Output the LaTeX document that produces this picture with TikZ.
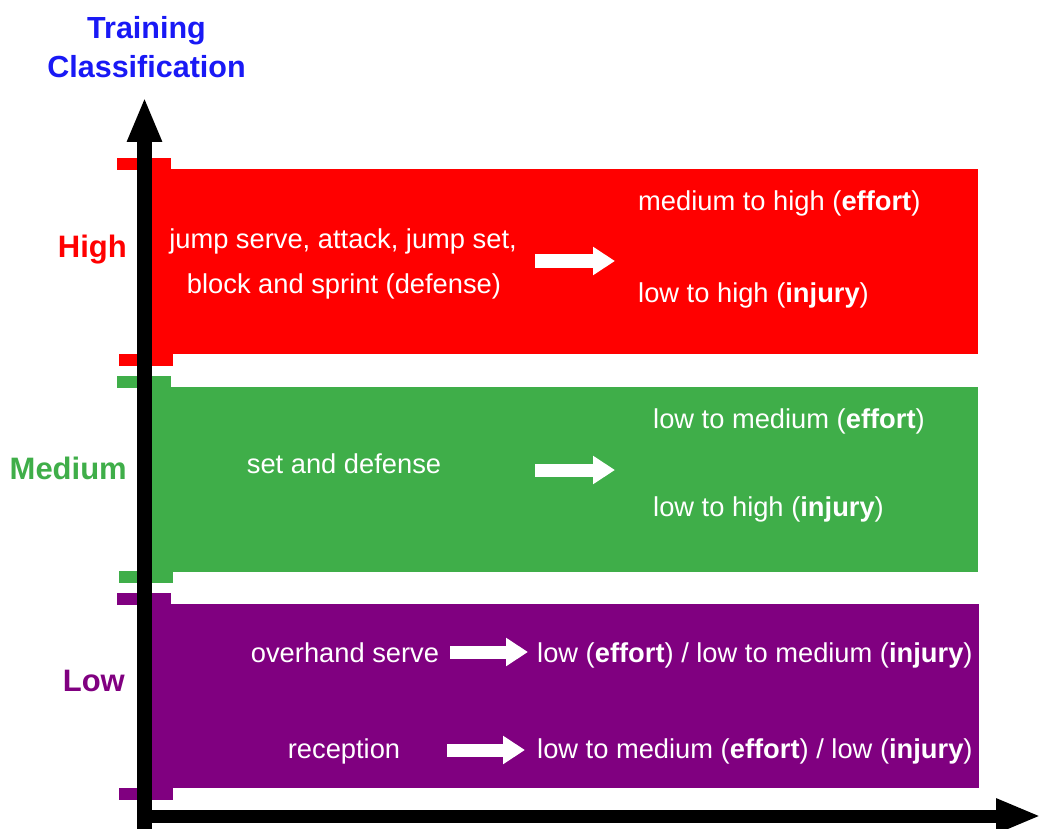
\documentclass[tikz,border=0pt]{standalone}
\usepackage{fontspec}
\setmainfont{Liberation Sans}
\usepackage{tikz}
\usetikzlibrary{arrows.meta}

\definecolor{highred}{RGB}{255,0,0}
\definecolor{medgreen}{RGB}{63,174,73}
\definecolor{lowpurple}{RGB}{128,0,128}
\definecolor{titleblue}{RGB}{25,25,245}

\begin{document}
\begin{tikzpicture}[x=1pt,y=-1pt,
    txt/.style={text=white, inner sep=0pt, font=\fontsize{27.3}{32}\selectfont},
    lvl/.style={inner sep=0pt, anchor=base east, font=\fontsize{31}{36}\selectfont\bfseries},
    whitearrow/.style={draw=white, line width=13pt, -{Triangle[length=22pt,width=27pt]}},
    axisline/.style={draw=black, line width=15pt, -{Triangle[length=45pt,width=32pt]}}]

\useasboundingbox (0,0) rectangle (1039,829);

% bands
\fill [highred]   (152,169) rectangle (978,354);
\fill [medgreen]  (152,387) rectangle (978,572);
\fill [lowpurple] (152,604) rectangle (979,788);

% ticks on the axis
\foreach \c/\t/\b in {highred/158/354, medgreen/376/571, lowpurple/593/788}
{
    \fill [\c] (117,\t) rectangle +(54,12);
    \fill [\c] (119,\b) rectangle +(54,12);
}

% axes
\coordinate (ybot) at (144.5,840);
\coordinate (ytop) at (144.5,97);
\coordinate (xleft) at (137,816);
\coordinate (xright) at (1041,816);

\draw [axisline] (ybot) -- (ytop);
\draw [axisline, line width=13pt] (xleft) -- (xright);

\node [align=center, anchor=north, inner sep=0pt, text=titleblue,
       font=\fontsize{30.5}{39}\selectfont\bfseries] (title) at (146.5,16) {Training\\Classification};

% levels
\node [lvl, text=highred]   (high)   at (127,258) {High};
\node [lvl, text=medgreen]  (medium) at (127,479) {Medium};
\node [lvl, text=lowpurple] (low)    at (125,691) {Low};

% high
\node [txt, anchor=base] (hleft1) at (343,248) {jump serve, attack, jump set,};
\node [txt, anchor=base] (hleft2) at (344,293) {block and sprint (defense)};
\node [txt, anchor=base west] (heffort) at (638,211) {medium to high (\textbf{effort})};
\node [txt, anchor=base west] (hinjury) at (638,302) {low to high (\textbf{injury})};

\coordinate (h1) at (535,261);
\coordinate (h2) at (615,261);
\draw [whitearrow] (h1) -- (h2);

% medium
\node [txt, anchor=base] (mleft) at (344,473) {set and defense};
\node [txt, anchor=base west] (meffort) at (653,428) {low to medium (\textbf{effort})};
\node [txt, anchor=base west] (minjury) at (653,516) {low to high (\textbf{injury})};

\coordinate (m1) at (535,470);
\coordinate (m2) at (615,470);
\draw [whitearrow] (m1) -- (m2);

% low
\node [txt, anchor=base] (lleft1) at (345,662) {overhand serve};
\node [txt, anchor=base west] (lright1) at (537,662) {low (\textbf{effort}) / low to medium (\textbf{injury})};
\node [txt, anchor=base] (lleft2) at (344,758) {reception};
\node [txt, anchor=base west] (lright2) at (537,758) {low to medium (\textbf{effort}) / low (\textbf{injury})};

\coordinate (l1) at (450,652);
\coordinate (l2) at (528,652);
\coordinate (l3) at (447,750);
\coordinate (l4) at (525,750);
\draw [whitearrow] (l1) -- (l2);
\draw [whitearrow] (l3) -- (l4);

\end{tikzpicture}
\end{document}
